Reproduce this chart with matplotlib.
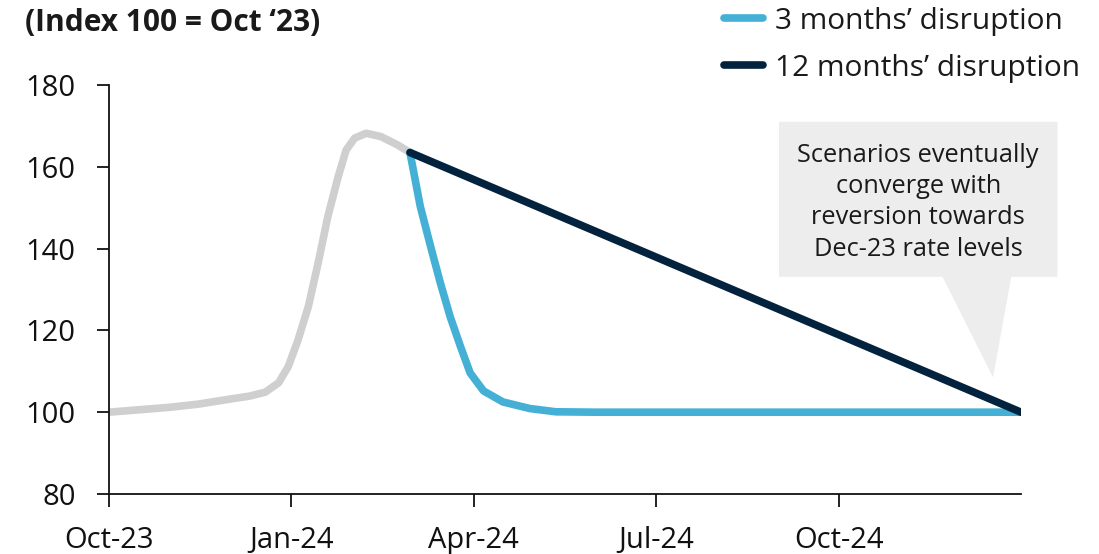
import numpy as np
import matplotlib.pyplot as plt
from matplotlib.patches import Polygon

plt.rcParams['font.family'] = ['Open Sans', 'DejaVu Sans']

# months since Oct-23
hist_x = [0, 0.5, 1, 1.48, 2.03, 2.3, 2.57, 2.79, 2.95, 3.11, 3.28, 3.44, 3.6, 3.77, 3.9, 4.04,
          4.23, 4.47, 4.74, 4.95]
hist_y = [100, 100.6, 101.2, 102, 103.3, 103.9, 104.9, 107.2, 111.2, 117.7, 125.9, 136.5, 147.9,
          157.6, 164.1, 167.0, 168.2, 167.4, 165.4, 163.5]

short_x = [4.95, 5.12, 5.29, 5.45, 5.61, 5.78, 5.94, 6.16, 6.48, 6.92, 7.35, 8.0, 15]
short_y = [163.5, 150.3, 140.5, 131.6, 123.4, 116.1, 109.6, 105.2, 102.5, 100.9, 100.1, 100, 100]

long_x = [4.95, 15]
long_y = [163.5, 100]

tick_pos = [0, 3, 6, 9, 12]
tick_labels = ['Oct-23', 'Jan-24', 'Apr-24', 'Jul-24', 'Oct-24']

note = 'Scenarios eventually\nconverge with\nreversion towards\nDec-23 rate levels'

grey = '#cfcfcf'
blue = '#45b0d6'
navy = '#03223d'

fig = plt.figure(figsize=(10.99, 5.54), dpi=100)
ax = fig.add_axes([109 / 1099, 60 / 554, 912 / 1099, 409 / 554])

ax.plot(hist_x, hist_y, color=grey, lw=5.5, solid_capstyle='round', solid_joinstyle='round')
ax.plot(short_x, short_y, color=blue, lw=5.5, solid_capstyle='round', solid_joinstyle='round',
        label='3 months\u2019 disruption')
ax.plot(long_x, long_y, color=navy, lw=5.5, solid_capstyle='round',
        label='12 months\u2019 disruption')

ax.set_xlim(0, 15)
ax.set_ylim(80, 180)
ax.set_yticks([80, 100, 120, 140, 160, 180])
ax.set_xticks(tick_pos)
ax.set_xticklabels(tick_labels)

for s in ['top', 'right']:
    ax.spines[s].set_visible(False)
for s in ['left', 'bottom']:
    ax.spines[s].set_linewidth(1.3)
    ax.spines[s].set_color('#111111')
ax.tick_params(axis='y', length=9, width=1.3, pad=15, labelsize=21, colors='#111111')
ax.tick_params(axis='x', length=9, width=1.3, pad=14, labelsize=21, colors='#111111')

# callout box with pointer
box = Polygon([(11.02, 171), (15.6, 171), (15.6, 133.1), (14.84, 133.1), (14.54, 108.5),
               (13.71, 133.1), (11.02, 133.1)],
              closed=True, facecolor='#ededed', edgecolor='none', clip_on=False, zorder=1)
ax.add_patch(box)
ax.text(13.31, 151.3, note, ha='center', va='center', fontsize=18.3, color='#1a1a1a',
        linespacing=1.32, zorder=2)

fig.text(25 / 1099, 1 - 23 / 554, '(Index 100 = Oct \u201823)', fontsize=21.5, fontweight='bold',
         ha='left', va='center', color='#1a1a1a')

leg = fig.legend(loc='upper left', bbox_to_anchor=(697 / 1099, 1 + 20 / 554), frameon=False,
                 fontsize=21.5, handlelength=1.3, handletextpad=0.42, labelspacing=0.6)
for t in leg.get_texts():
    t.set_color('#1a1a1a')

fig.savefig('out.png', dpi=100)
